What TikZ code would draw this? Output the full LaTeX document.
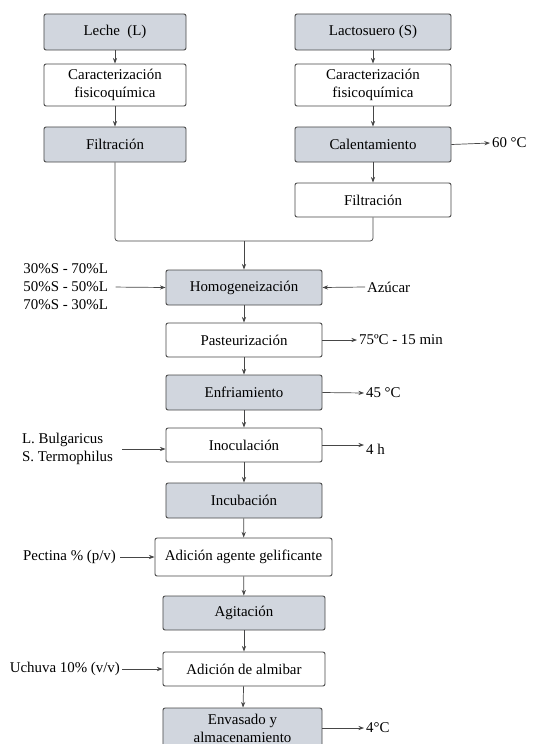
\documentclass[tikz,border=0pt]{standalone}
\usepackage{fontspec}
\setmainfont{Liberation Serif}
\usepackage{xcolor}
\usetikzlibrary{arrows.meta,positioning}
\definecolor{boxgray}{RGB}{209,214,222}
\definecolor{linegray}{RGB}{70,70,70}

\begin{document}
\begin{tikzpicture}[
    x=0.025cm, y=-0.025cm,
    every node/.style={font=\rmfamily\fontsize{10.6}{12.8}\selectfont},
    box/.style={draw=linegray, line width=0.65pt, rounded corners=1.5pt, align=center, minimum width=3.9cm, minimum height=0.85cm, inner sep=1pt, fill=white},
    graybox/.style={box, fill=boxgray},
    lbl/.style={inner sep=0pt, outer sep=1.5pt, align=left},
    arr/.style={-{Stealth[length=4pt,width=3pt]}, line width=0.5pt, draw=linegray},
    line/.style={line width=0.5pt, draw=linegray, rounded corners=2pt}
]
\useasboundingbox (0,0) rectangle (541,744);

% Left branch
\node[graybox, minimum width=3.55cm, minimum height=0.9cm] (leche) at (115,32) {Leche~ (L)};
\node[box, minimum width=3.55cm, minimum height=1.05cm] (carL) at (115,85) {Caracterización\\fisicoquímica};
\node[graybox, minimum width=3.55cm, minimum height=0.875cm] (filL) at (115,144.5) {Filtración};

% Right branch
\node[graybox, minimum height=0.9cm] (lacto) at (373,32) {Lactosuero (S)};
\node[box, minimum height=1.05cm] (carS) at (373,85) {Caracterización\\fisicoquímica};
\node[graybox, minimum height=0.875cm] (calen) at (373,144.5) {Calentamiento};
\node[box] (filS) at (373,200) {Filtración};
\node[lbl, anchor=west] (t60) at (490,143) {60 °C};

% Junction
\coordinate (join) at (244,241);

% Main line
\node[graybox, minimum height=0.875cm] (homog) at (244,287.5) {Homogeneización};
\node[box] (paste) at (244,340) {Pasteurización};
\node[graybox, minimum height=0.875cm] (enfri) at (244,392.5) {Enfriamiento};
\node[box] (inocu) at (244,445) {Inoculación};
\node[graybox, minimum height=0.875cm] (incub) at (244,500.5) {Incubación};
\node[box, minimum width=4.425cm, minimum height=0.95cm] (gelif) at (243.5,557) {Adición agente gelificante};
\node[graybox, minimum width=4.05cm] (agita) at (244,613) {Agitación};
\node[box, minimum width=4.05cm] (almib) at (244,669) {Adición de almibar};
\node[graybox, minimum width=3.975cm, minimum height=1.0cm] (envas) at (242.5,728) {Envasado y\\almacenamiento};

% Side inputs
\node[lbl, anchor=east] (mix) at (110,287) {30\%S - 70\%L\\50\%S - 50\%L\\70\%S - 30\%L};
\node[lbl, anchor=west] (azucar) at (365,287) {Azúcar};
\node[lbl, anchor=west] (t75) at (357,340) {75ºC - 15 min};
\node[lbl, anchor=west] (t45) at (364,393) {45 °C};
\node[lbl, anchor=east] (bact) at (115,449) {L. Bulgaricus\\S. Termophilus};
\node[lbl, anchor=west] (t4h) at (364,449) {4 h};
\node[lbl, anchor=east] (pect) at (118,557) {Pectina \% (p/v)};
\node[lbl, anchor=east] (uchuva) at (122,669) {Uchuva 10\% (v/v)};
\node[lbl, anchor=west] (t4) at (364,728) {4°C};

% Connections
\draw[arr] (leche) -- (carL);
\draw[arr] (carL) -- (filL);
\draw[arr] (lacto) -- (carS);
\draw[arr] (carS) -- (calen);
\draw[arr] (calen) -- (filS);
\draw[arr] (calen.east) -- (t60.west);

\draw[line] (filL.south) |- (filS.south |- join) -- (filS.south);
\draw[arr] (join) -- (homog.north);

\draw[arr] (homog) -- (paste);
\draw[arr] (paste) -- (enfri);
\draw[arr] (enfri) -- (inocu);
\draw[arr] (inocu) -- (incub);
\draw[arr] (incub) -- (gelif);
\draw[arr] (gelif) -- (agita);
\draw[arr] (agita) -- (almib);
\draw[arr] (almib) -- (envas);

\draw[arr, shorten <=4pt] (mix.east) -- (homog.west);
\draw[arr] (azucar.west) -- (homog.east);
\draw[arr] (paste.east) -- (t75.west);
\draw[arr] (enfri.east) -- (t45.west);
\draw[arr] (inocu.east) -- (inocu.east -| t4h.west);
\draw[arr, shorten <=5pt] (bact.east) -- (bact.east -| inocu.west);
\draw[arr, shorten <=1.5pt] (pect.east) -- (gelif.west);
\draw[arr] (uchuva.east) -- (almib.west);
\draw[arr] (envas.east) -- (t4.west);

\end{tikzpicture}
\end{document}
